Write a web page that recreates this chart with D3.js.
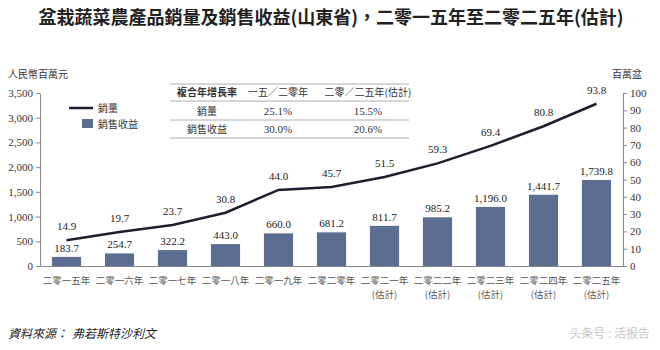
<!DOCTYPE html>
<html>
<head>
<meta charset="utf-8">
<script src="https://cdn.jsdelivr.net/npm/d3@7"></script>
<style>
body { margin: 0; background: #fff; }
svg { display: block; }
</style>
</head>
<body>
<svg width="660" height="350"></svg>
<script>
var years = ['二零一五年','二零一六年','二零一七年','二零一八年','二零一九年','二零二零年',
             '二零二一年','二零二二年','二零二三年','二零二四年','二零二五年'];
var estimated = [false,false,false,false,false,false,true,true,true,true,true];
var revenue = [183.7, 254.7, 322.2, 443.0, 660.0, 681.2, 811.7, 985.2, 1196.0, 1441.7, 1739.8];
var volume = [14.9, 19.7, 23.7, 30.8, 44.0, 45.7, 51.5, 59.3, 69.4, 80.8, 93.8];
var leftTicks = [0, 500, 1000, 1500, 2000, 2500, 3000, 3500];
var rightTicks = [0, 10, 20, 30, 40, 50, 60, 70, 80, 90, 100];
var tableHead = ['複合年增長率', '一五／二零年', '二零／二五年(估計)'];
var tableRows = [['銷量', '25.1%', '15.5%'], ['銷售收益', '30.0%', '20.6%']];

var serif = '"Liberation Serif", "DejaVu Serif", serif';
var cjk = '"Noto Sans CJK TC", "Noto Sans CJK SC", sans-serif';
var barColor = '#5b6e91';
var lineColor = '#1c1f2e';

var svg = d3.select('svg');

var plotL = 40, plotR = 623, plotT = 93, plotB = 266;

var x = d3.scaleBand()
	.domain(years)
	.range([plotL, plotR])
	.paddingInner(0.45)
	.paddingOuter(0.225);

var yL = d3.scaleLinear().domain([0, 3500]).range([plotB, plotT]);
var yR = d3.scaleLinear().domain([0, 100]).range([plotB, plotT]);

// title
svg.append('text')
	.attr('x', 331).attr('y', 24)
	.attr('text-anchor', 'middle')
	.style('font-family', cjk)
	.style('font-weight', 'bold')
	.style('font-size', '18px')
	.style('fill', '#222')
	.text('盆栽蔬菜農產品銷量及銷售收益(山東省)，二零一五年至二零二五年(估計)');

// axis titles
svg.append('text').attr('x', 8).attr('y', 78)
	.style('font-family', cjk).style('font-size', '10px').style('fill', '#333')
	.text('人民幣百萬元');
svg.append('text').attr('x', 612).attr('y', 78)
	.style('font-family', cjk).style('font-size', '10px').style('fill', '#333')
	.text('百萬盆');

// bars
svg.selectAll('rect.bar')
	.data(revenue)
	.enter().append('rect')
	.attr('class', 'bar')
	.attr('x', function(d, i) { return x(years[i]); })
	.attr('width', x.bandwidth())
	.attr('y', function(d) { return yL(d); })
	.attr('height', function(d) { return plotB - yL(d); })
	.attr('fill', barColor);

svg.selectAll('text.barlab')
	.data(revenue)
	.enter().append('text')
	.attr('class', 'barlab')
	.attr('x', function(d, i) { return x(years[i]) + x.bandwidth() / 2; })
	.attr('y', function(d) { return yL(d) - 5; })
	.attr('text-anchor', 'middle')
	.style('font-family', serif).style('font-size', '11px').style('fill', '#222')
	.text(function(d) { return d3.format(',.1f')(d); });

// line
var line = d3.line()
	.x(function(d, i) { return x(years[i]) + x.bandwidth() / 2; })
	.y(function(d) { return yR(d); });

svg.append('path')
	.attr('d', line(volume))
	.style('fill', 'none')
	.style('stroke', lineColor)
	.style('stroke-width', 2.5);

svg.selectAll('text.linelab')
	.data(volume)
	.enter().append('text')
	.attr('class', 'linelab')
	.attr('x', function(d, i) { return x(years[i]) + x.bandwidth() / 2; })
	.attr('y', function(d) { return yR(d) - 10; })
	.attr('text-anchor', 'middle')
	.style('font-family', serif).style('font-size', '11px').style('fill', '#222')
	.text(function(d) { return d.toFixed(1); });

// axes
var axL = svg.append('g')
	.attr('transform', 'translate(' + plotL + ',0)')
	.call(d3.axisLeft(yL).tickValues(leftTicks).tickSize(4).tickSizeOuter(0).tickFormat(d3.format(',')));
var axR = svg.append('g')
	.attr('transform', 'translate(' + plotR + ',0)')
	.call(d3.axisRight(yR).tickValues(rightTicks).tickSize(4).tickSizeOuter(0));
var axB = svg.append('g')
	.attr('transform', 'translate(0,' + plotB + ')')
	.call(d3.axisBottom(x).tickSize(0).tickFormat(''));

[axL, axR, axB].forEach(function(g) {
	g.selectAll('path, line').style('stroke', '#888');
	g.selectAll('text').style('font-family', serif).style('font-size', '11px').style('fill', '#333');
});

// x labels
var xl = svg.selectAll('g.xlab')
	.data(years)
	.enter().append('g')
	.attr('class', 'xlab')
	.attr('transform', function(d) { return 'translate(' + (x(d) + x.bandwidth() / 2) + ',0)'; });
xl.append('text')
	.attr('y', 284)
	.attr('text-anchor', 'middle')
	.style('font-family', cjk).style('font-size', '9.5px').style('fill', '#555')
	.text(function(d) { return d; });
xl.filter(function(d, i) { return estimated[i]; })
	.append('text')
	.attr('y', 298)
	.attr('text-anchor', 'middle')
	.style('font-family', cjk).style('font-size', '9.5px').style('fill', '#555')
	.text('(估計)');

// legend
svg.append('line')
	.attr('x1', 69).attr('x2', 93).attr('y1', 108).attr('y2', 108)
	.style('stroke', lineColor).style('stroke-width', 2.5);
svg.append('text').attr('x', 98).attr('y', 112)
	.style('font-family', cjk).style('font-size', '10px').style('fill', '#333')
	.text('銷量');
svg.append('rect')
	.attr('x', 82).attr('y', 119).attr('width', 11).attr('height', 9)
	.attr('fill', barColor);
svg.append('text').attr('x', 98).attr('y', 128)
	.style('font-family', cjk).style('font-size', '10px').style('fill', '#333')
	.text('銷售收益');

// CAGR table
var colX = [207, 278, 368];
var rowY = [96, 115, 133];
[84, 101, 120, 138].forEach(function(yy) {
	svg.append('line')
		.attr('x1', 170).attr('x2', 409).attr('y1', yy).attr('y2', yy)
		.style('stroke', '#999').style('stroke-width', 0.8);
});
tableHead.forEach(function(t, j) {
	svg.append('text')
		.attr('x', colX[j]).attr('y', rowY[0])
		.attr('text-anchor', 'middle')
		.style('font-family', cjk).style('font-size', '10px')
		.style('font-weight', j === 0 ? 'bold' : 'normal')
		.style('fill', '#333')
		.text(t);
});
tableRows.forEach(function(r, i) {
	r.forEach(function(t, j) {
		svg.append('text')
			.attr('x', colX[j]).attr('y', rowY[i + 1])
			.attr('text-anchor', 'middle')
			.style('font-family', j === 0 ? cjk : serif)
			.style('font-size', j === 0 ? '10px' : '11px')
			.style('fill', '#333')
			.text(t);
	});
});

// source + watermark
svg.append('text').attr('x', 8).attr('y', 338)
	.style('font-family', cjk).style('font-style', 'italic').style('font-size', '12px').style('fill', '#222')
	.text('資料來源：');
svg.append('text').attr('x', 72).attr('y', 338)
	.style('font-family', cjk).style('font-style', 'italic').style('font-size', '12px').style('fill', '#222')
	.text('弗若斯特沙利文');
svg.append('text').attr('x', 650).attr('y', 338)
	.attr('text-anchor', 'end')
	.style('font-family', cjk).style('font-size', '12px').style('fill', '#c8c8c8')
	.text('头条号 : 活报告');
</script>
</body>
</html>
